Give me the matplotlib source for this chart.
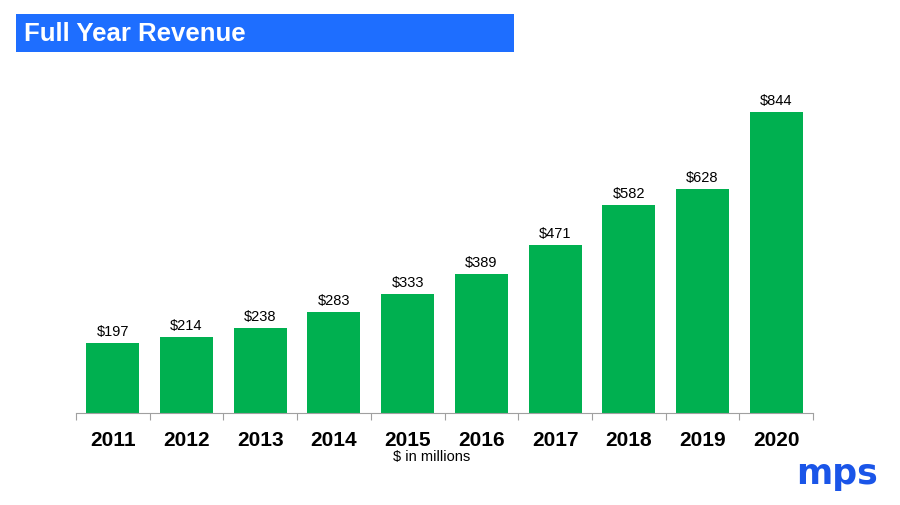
import matplotlib.pyplot as plt
from matplotlib.patches import Rectangle

# data
years = ['2011', '2012', '2013', '2014', '2015', '2016', '2017', '2018', '2019', '2020']
revenue = [197, 214, 238, 283, 333, 389, 471, 582, 628, 844]

plt.rcParams['font.family'] = ['Liberation Sans', 'DejaVu Sans']

fig = plt.figure(figsize=(9, 5.06), dpi=100)

# title banner
fig.patches.append(Rectangle((16 / 900, 1 - 53 / 506), 498 / 900, 38 / 506,
                             transform=fig.transFigure, facecolor='#1E6EFF',
                             edgecolor='none'))
fig.text(24 / 900, 1 - 34 / 506, 'Full Year Revenue', color='white',
         fontsize=18.5, fontweight='bold', va='center', ha='left')

# bar chart
ax = fig.add_axes([76 / 900, 92 / 506, 737 / 900, 321 / 506])
x = range(len(years))
bars = ax.bar(x, revenue, width=0.72, color='#00B050')
for xi, v in zip(x, revenue):
    ax.text(xi, v + 14, f'${v}', ha='center', va='bottom', fontsize=10.5)

ax.set_xlim(-0.5, len(years) - 0.5)
ax.set_ylim(0, 900)
ax.set_yticks([])
ax.set_xticks([i - 0.5 for i in range(len(years) + 1)])
ax.set_xticklabels([])
ax.set_xticks(list(x), minor=True)
ax.set_xticklabels(years, minor=True, fontsize=15, fontweight='bold')
ax.tick_params(axis='x', which='major', length=5, color='#A0A0A0', direction='out')
ax.tick_params(axis='x', which='minor', length=0, pad=12)
for s in ['top', 'right', 'left']:
    ax.spines[s].set_visible(False)
ax.spines['bottom'].set_color('#A0A0A0')

fig.text(432 / 900, 1 - 457 / 506, '$ in millions', ha='center', va='center',
         fontsize=10.5)

# logo
fig.text(837 / 900, 1 - 484 / 506, 'mps', ha='center', va='baseline',
         fontsize=25, fontweight='bold', color='#1A55E8', family='DejaVu Sans')

fig.savefig('out.png', dpi=100)
